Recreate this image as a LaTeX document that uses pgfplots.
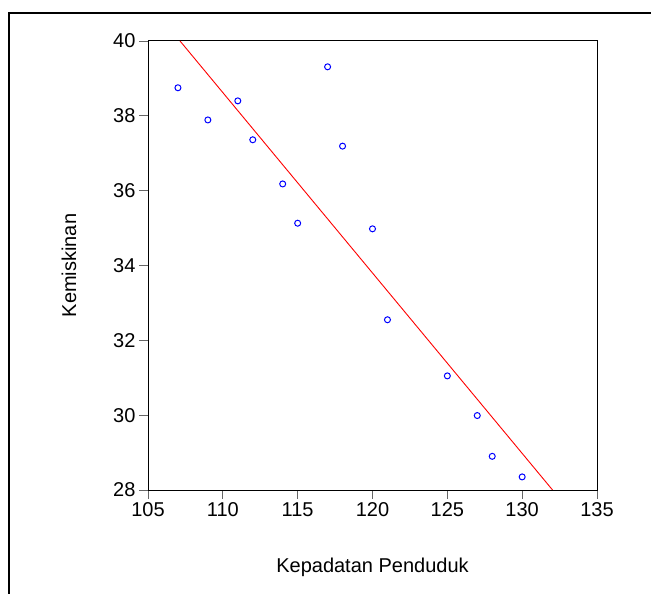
\documentclass[border=0pt]{standalone}
\usepackage{fontspec}
\setmainfont{Liberation Sans}
\usepackage{pgfplots}
\pgfplotsset{compat=1.18}

% Observations: population density vs. poverty
\pgfplotstableread{
x     y
107   38.75
109   37.89
111   38.40
112   37.36
114   36.18
115   35.13
117   39.31
118   37.19
120   34.98
121   32.55
125   31.05
127   29.99
128   28.90
130   28.35
}\obsdata

% Fitted regression line (end points)
\pgfplotstableread{
x       y
107.14  40
132.03  28
}\fitdata

\begin{document}
\begin{tikzpicture}
\useasboundingbox (0,0) rectangle (651bp,594bp);
\clip (0,0) rectangle (651bp,594bp);
% outer frame
\draw[line width=1.5bp] (9bp,-20bp) -- (9bp,581bp) -- (680bp,581bp);
\begin{axis}[
  at={(148bp,104bp)}, anchor=south west,
  scale only axis, width=449bp, height=449bp,
  xmin=105, xmax=135, ymin=28, ymax=40,
  xtick={105,110,...,135}, ytick={28,30,...,40},
  axis line style={line width=1bp, black},
  tick align=outside, major tick length=9bp,
  tick style={black!60, line width=0.8bp},
  xtick pos=bottom, ytick pos=left,
  tick label style={font=\fontsize{20bp}{24bp}\selectfont},
  /pgf/number format/assume math mode=true,
  /pgf/number format/1000 sep={},
  label style={font=\fontsize{20bp}{24bp}\selectfont},
  xlabel={Kepadatan Penduduk},
  ylabel={Kemiskinan},
  xlabel style={at={(axis description cs:0.5,-0.1715)}, anchor=center},
  ylabel style={at={(axis description cs:-0.176,0.5)}, anchor=center},
  clip=true,
]
\addplot[only marks, mark=o, mark size=3bp, mark options={blue, line width=1bp}] table[x=x,y=y] {\obsdata};
\addplot[red, line width=0.9bp] table[x=x,y=y] {\fitdata};
\end{axis}
\end{tikzpicture}
\end{document}
